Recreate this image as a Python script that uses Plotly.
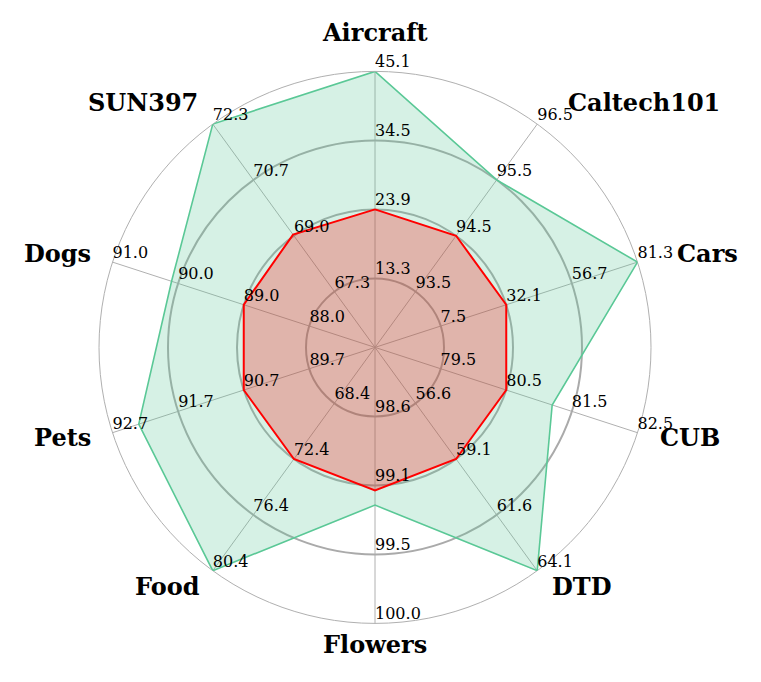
import plotly.graph_objects as go

# datasets, clockwise from the top
categories = ['Aircraft', 'Caltech101', 'Cars', 'CUB', 'DTD',
              'Flowers', 'Food', 'Pets', 'Dogs', 'SUN397']

# tick labels printed on each spoke (rings 1..4, inner to outer)
ring1 = [13.3, 93.5, 7.5, 79.5, 56.6, 98.6, 68.4, 89.7, 88.0, 67.3]
ring2 = [23.9, 94.5, 32.1, 80.5, 59.1, 99.1, 72.4, 90.7, 89.0, 69.0]
ring3 = [34.5, 95.5, 56.7, 81.5, 61.6, 99.5, 76.4, 91.7, 90.0, 70.7]
ring4 = [45.1, 96.5, 81.3, 82.5, 64.1, 100.0, 80.4, 92.7, 91.0, 72.3]

baseline = [23.9, 94.5, 32.1, 80.5, 59.1, 99.1, 72.4, 90.7, 89.0, 69.0]
improved = [45.1, 95.5, 81.3, 81.2, 64.1, 99.2, 80.4, 92.3, 90.1, 72.3]

ring_levels = [0.25, 0.5, 0.75, 1.0]

W, H = 761, 682
PAGE_PAD = 8  # the html body margin shifts the figure by this much
CX, CY, R = 375 - PAGE_PAD, 347.4 - PAGE_PAD, 276


def to_radius(values):
    # each spoke has its own scale: ring1 sits at 0.25, ring4 at 1.0
    out = []
    for v, lo, hi in zip(values, ring1, ring4):
        out.append(0.25 + 0.75 * (v - lo) / (hi - lo))
    return out


def closed(seq):
    return list(seq) + [seq[0]]


fig = go.Figure()

fig.add_trace(go.Scatterpolar(
    r=closed(to_radius(improved)), theta=closed(categories),
    mode='lines', fill='toself',
    fillcolor='rgba(90,200,150,0.25)',
    line=dict(color='rgb(90,200,150)', width=1.6),
    hoverinfo='skip'
))

fig.add_trace(go.Scatterpolar(
    r=closed(to_radius(baseline)), theta=closed(categories),
    mode='lines', fill='toself',
    fillcolor='rgba(255,0,0,0.25)',
    line=dict(color='#ff0000', width=2),
    hoverinfo='skip'
))

# per-spoke tick labels
for level, ring in zip(ring_levels, [ring1, ring2, ring3, ring4]):
    fig.add_trace(go.Scatterpolar(
        r=[level] * len(categories), theta=categories,
        mode='text', text=[f'{v:.1f}' for v in ring],
        textposition='top right',
        textfont=dict(family='DejaVu Serif', size=16, color='black'),
        cliponaxis=False, hoverinfo='skip'
    ))

# dataset names around the chart (centres in screen pixels)
label_pos = {
    'Aircraft': (375, 33), 'Caltech101': (644, 103), 'Cars': (707, 253),
    'CUB': (690, 437), 'DTD': (581, 586), 'Flowers': (375, 644),
    'Food': (167, 586), 'Pets': (62, 437), 'Dogs': (57, 253),
    'SUN397': (143, 103),
}
for name, (px, py) in label_pos.items():
    fig.add_annotation(
        x=(px - PAGE_PAD) / W, y=1 - (py - PAGE_PAD) / H,
        xref='paper', yref='paper',
        text=f'<b>{name}</b>', showarrow=False,
        xanchor='center', yanchor='middle',
        font=dict(family='DejaVu Serif', size=24, color='black')
    )

fig.update_layout(
    width=W, height=H,
    margin=dict(l=0, r=0, t=0, b=0),
    paper_bgcolor='white',
    showlegend=False,
    polar=dict(
        domain=dict(x=[(CX - R) / W, (CX + R) / W],
                    y=[1 - (CY + R) / H, 1 - (CY - R) / H]),
        bgcolor='rgba(0,0,0,0)',
        radialaxis=dict(range=[0, 1], tickvals=[0.25, 0.5, 0.75],
                        showticklabels=False, ticks='', showline=False,
                        gridcolor='#aaaaaa', gridwidth=1.6, layer='below traces'),
        angularaxis=dict(type='category', categoryarray=categories,
                         rotation=90, direction='clockwise',
                         showticklabels=False, ticks='',
                         gridcolor='#b0b0b0', gridwidth=1,
                         showline=True, linecolor='#b0b0b0', linewidth=1,
                         layer='below traces'),
    ),
)

fig.write_html("out.html")
